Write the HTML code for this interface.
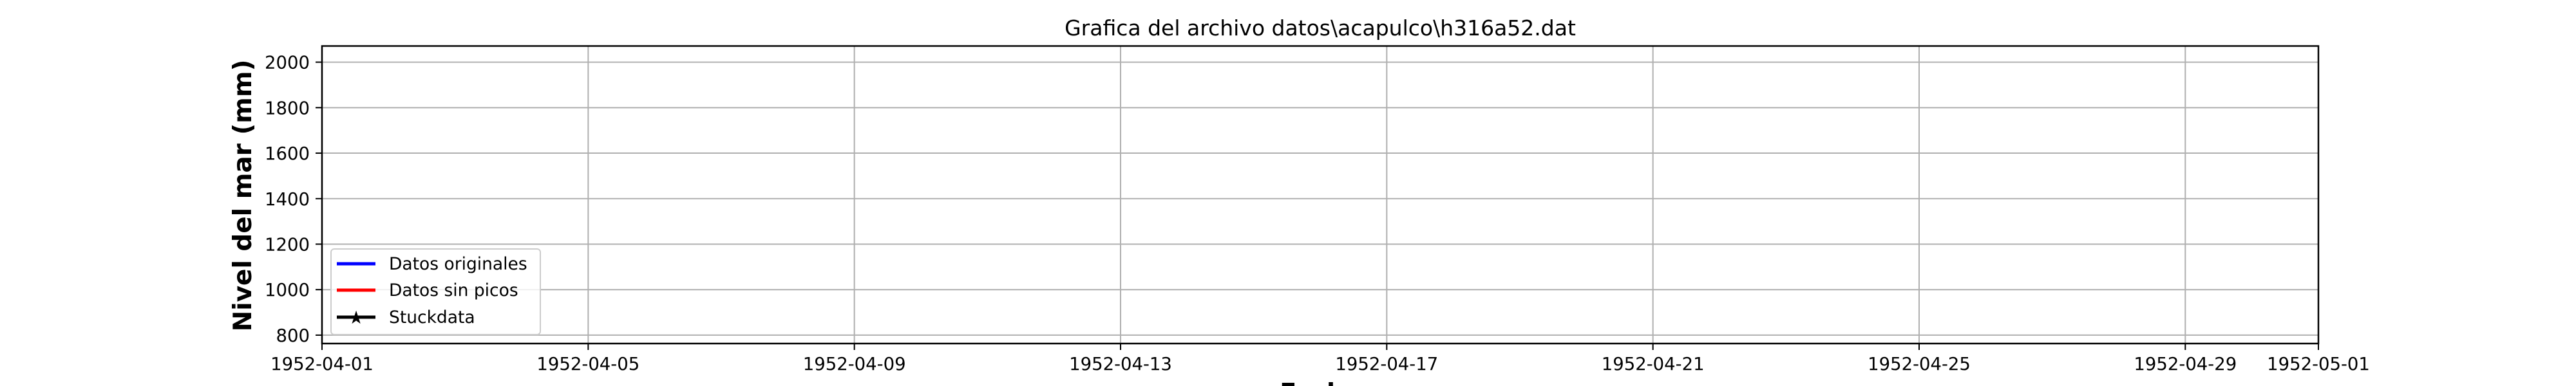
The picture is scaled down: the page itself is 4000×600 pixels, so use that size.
<!DOCTYPE html>
<html><head><meta charset="utf-8"><style>
html,body{margin:0;padding:0;background:#fff;width:4000px;height:600px;overflow:hidden;}
svg{display:block;font-family:"DejaVu Sans","Liberation Sans",sans-serif;}
</style></head><body>
<svg id="chart" width="4000" height="600" viewBox="0 0 4000 600">
<g id="grid"></g>
<g id="series"></g>
<rect x="500" y="71.5" width="3100" height="462.5" fill="none" stroke="#000" stroke-width="2.5"/>
<g id="xticks"></g>
<g id="yticks"></g>
<text x="2050" y="55" font-size="33" text-anchor="middle">Grafica del archivo datos\acapulco\h316a52.dat</text>
<text transform="translate(390,304) rotate(-90)" font-size="39" font-weight="bold" text-anchor="middle">Nivel del mar (mm)</text>
<text x="2050" y="623" font-size="38" font-weight="bold" text-anchor="middle">Fecha</text>
<g>
<rect x="514" y="387" width="325" height="133" rx="5" fill="#fff" fill-opacity="0.8" stroke="#ccc" stroke-width="2"/>
<g>
<line x1="523" y1="410" x2="583" y2="410" stroke="#0000ff" stroke-width="5"/>
<text x="604" y="419" font-size="26.5">Datos originales</text></g>
<g>
<line x1="523" y1="451" x2="583" y2="451" stroke="#ff0000" stroke-width="5"/>
<text x="604" y="460" font-size="26.5">Datos sin picos</text></g>
<g>
<line x1="523" y1="493" x2="583" y2="493" stroke="#000" stroke-width="5"/>
<text x="553" y="503" font-size="28" text-anchor="middle">★</text>
<text x="604" y="502" font-size="26.5">Stuckdata</text></g>
</g>
</svg>
<script>
const xTickLabels = ["1952-04-01","1952-04-05","1952-04-09","1952-04-13","1952-04-17","1952-04-21","1952-04-25","1952-04-29","1952-05-01"];
const xTickDays = [0,4,8,12,16,20,24,28,30];
const yTickValues = [800,1000,1200,1400,1600,1800,2000];
const originalDays = [];
const originalValues = [];
const cleanDays = [];
const cleanValues = [];
const stuckDays = [];
const stuckValues = [];

const NS="http://www.w3.org/2000/svg";
const X0=500,X1=3600,Y0=534,Y1=71.5,DMIN=0,DMAX=30,VMIN=763,VMAX=2071;
function sx(d){return X0+(d-DMIN)/(DMAX-DMIN)*(X1-X0);}
function sy(v){return Y0-(v-VMIN)/(VMAX-VMIN)*(Y0-Y1);}
function mk(tag,attrs,parent){const e=document.createElementNS(NS,tag);for(const k in attrs)e.setAttribute(k,attrs[k]);parent.appendChild(e);return e;}
const grid=document.getElementById('grid'),xt=document.getElementById('xticks'),yt=document.getElementById('yticks'),ser=document.getElementById('series');
xTickDays.forEach((d,i)=>{
  const x=sx(d);
  const g=mk('line',{x1:x,y1:Y1,x2:x,y2:Y0,stroke:'#b0b0b0','stroke-width':2},grid);
  
  
  const t=mk('line',{x1:x,y1:Y0,x2:x,y2:Y0+10,stroke:'#000','stroke-width':2},xt);
  
  
  const l=mk('text',{x:x,y:575,'font-size':27.5,'text-anchor':'middle'},xt);
  l.textContent=xTickLabels[i];
  
  
});
yTickValues.forEach(v=>{
  const y=sy(v);
  const g=mk('line',{x1:X0,y1:y,x2:X1,y2:y,stroke:'#b0b0b0','stroke-width':2},grid);
  
  
  const t=mk('line',{x1:X0-10,y1:y,x2:X0,y2:y,stroke:'#000','stroke-width':2},yt);
  
  
  const l=mk('text',{x:481,y:y+10,'font-size':27.5,'text-anchor':'end'},yt);
  l.textContent=String(v);
  
  
});
function drawLine(ds,vs,color,name){
  if(!ds.length)return;
  const p=mk('polyline',{points:ds.map((d,i)=>sx(d)+','+sy(vs[i])).join(' '),fill:'none',stroke:color,'stroke-width':3},ser);
  
  
}
drawLine(originalDays,originalValues,'#0000ff','line-datos-originales');
drawLine(cleanDays,cleanValues,'#ff0000','line-datos-sin-picos');
drawLine(stuckDays,stuckValues,'#000','line-stuckdata');
</script>
</body></html>
